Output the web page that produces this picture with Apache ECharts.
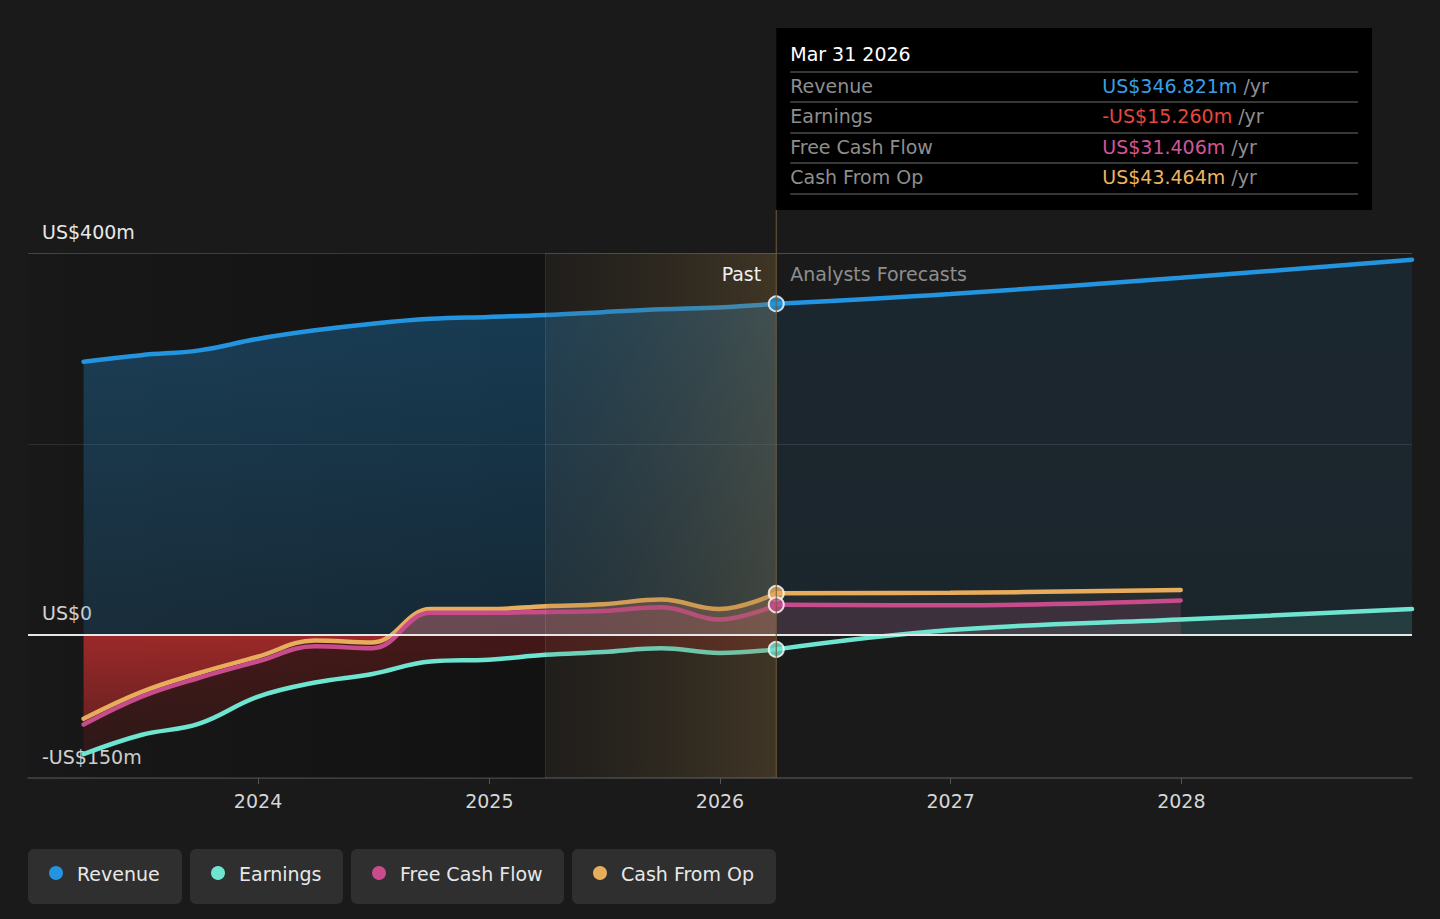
<!DOCTYPE html>
<html>
<head>
<meta charset="utf-8">
<title>Revenue, Earnings and Cash Flow</title>
<script src="https://cdn.jsdelivr.net/npm/echarts@6/dist/echarts.min.js"></script>
<style>
  html, body { margin: 0; padding: 0; background: #1a1a1a; }
  #chart { width: 1440px; height: 919px; }
</style>
</head>
<body>
<div id="chart"></div>
<script>
// past quarters (trailing twelve months)
var pastDates = ['2023-03-31', '2023-06-30', '2023-09-30', '2023-12-31', '2024-03-31', '2024-06-30',
                 '2024-09-30', '2024-12-31', '2025-03-31', '2025-06-30', '2025-09-30', '2025-12-31', '2026-03-31'];
var revenuePast  = [286, 293, 298, 310, 319, 326, 331, 333, 335, 338, 341, 343, 346.821];
var earningsPast = [-125, -105, -93, -65, -50, -41, -28, -26, -21, -18, -14, -19, -15.26];
var fcfPast      = [-94, -65, -45, -28, -12, -14, 23, 23, 24, 25, 29, 16, 31.406];
var cfoPast      = [-88, -60, -40, -23, -6, -8, 27, 27, 30, 32, 37, 27, 43.464];

// analyst forecasts
var forecastDates = ['2026-03-31', '2026-12-31', '2027-12-31', '2028-12-31'];
var revenueFc  = [346.821, 357, 374, 393];
var earningsFc = [-15.26, 5, 16, 27];
var cashDates  = ['2026-03-31', '2026-12-31', '2027-12-31'];
var fcfFc      = [31.406, 31, 36];
var cfoFc      = [43.464, 44, 47];

var yTicks = [-150, 0, 400];
var yearLabels = [2024, 2025, 2026, 2027, 2028];
var legendNames = ['Revenue', 'Earnings', 'Free Cash Flow', 'Cash From Op'];
var nowDate = '2026-03-31';
var highlightStart = '2025-03-31';

var colors = {
    revenue: '#2394df',
    earnings: '#6ee5d0',
    fcf: '#c84b8c',
    cfo: '#e8ad5c'
};

var FONT = '"DejaVu Sans", sans-serif';
var GRID = { left: 28, right: 28, top: 253, bottom: 141 };
var plotBottom = 919 - GRID.bottom;
var yMin = -150, yMax = 400;
var zeroAt = yMax / (yMax - yMin);

function pairs(dates, vals) {
    return dates.map(function (d, i) { return [d, vals[i]]; });
}
// vertical gradient in page coordinates, so the colour changes at zero
function vGrad(stops) {
    return new echarts.graphic.LinearGradient(0, GRID.top, 0, plotBottom, stops, true);
}
function signGrad(above1, above0, below0, below1) {
    return vGrad([
        { offset: 0, color: above1 },
        { offset: zeroAt, color: above0 },
        { offset: zeroAt, color: below0 },
        { offset: 1, color: below1 }
    ]);
}
function lineSeries(name, data, color, area, z) {
    return {
        name: name,
        type: 'line',
        data: data,
        smooth: 0.4,
        showSymbol: false,
        symbol: 'none',
        z: z || 2,
        lineStyle: { color: color, width: 4.5, cap: 'round' },
        itemStyle: { color: color },
        areaStyle: area ? { color: area, opacity: 1 } : undefined,
        silent: true
    };
}

var chart = echarts.init(document.getElementById('chart'), null, { renderer: 'svg' });

var splitColors = [];
for (var v = yMin; v <= yMax; v += 50) {
    splitColors.push(v === 400 ? '#4a4a4a' : (v === 200 ? '#333333' : 'rgba(0,0,0,0)'));
}

var T = 'rgba(0,0,0,0)';
var series = [
    lineSeries('Revenue', pairs(pastDates, revenuePast), colors.revenue,
        signGrad('rgba(35,148,223,0.34)', 'rgba(35,148,223,0.17)', T, T)),
    lineSeries('Revenue', pairs(forecastDates, revenueFc), colors.revenue,
        signGrad('rgba(35,148,223,0.11)', 'rgba(35,148,223,0.09)', T, T)),
    lineSeries('Earnings', pairs(pastDates, earningsPast), colors.earnings,
        signGrad('rgba(110,229,208,0.15)', 'rgba(110,229,208,0.15)', 'rgba(130,30,30,0.45)', 'rgba(90,25,25,0.3)')),
    lineSeries('Earnings', pairs(forecastDates, earningsFc), colors.earnings,
        signGrad('rgba(110,229,208,0.12)', 'rgba(110,229,208,0.12)', T, T)),
    lineSeries('Cash From Op', pairs(pastDates, cfoPast), colors.cfo,
        signGrad('rgba(225,140,120,0.28)', 'rgba(225,140,120,0.28)', 'rgba(180,45,45,0.78)', 'rgba(150,40,40,0.35)')),
    lineSeries('Cash From Op', pairs(cashDates, cfoFc), colors.cfo,
        signGrad('rgba(120,95,70,0.12)', 'rgba(120,95,70,0.12)', T, T)),
    lineSeries('Free Cash Flow', pairs(pastDates, fcfPast), colors.fcf,
        signGrad('rgba(200,90,110,0.22)', 'rgba(200,90,110,0.22)', T, T)),
    lineSeries('Free Cash Flow', pairs(cashDates, fcfFc), colors.fcf,
        signGrad('rgba(200,75,140,0.14)', 'rgba(200,75,140,0.14)', T, T))
];

// darker band over the older history
series[0].markArea = {
    silent: true,
    z: 1,
    itemStyle: {
        color: new echarts.graphic.LinearGradient(0, 0, 1, 0, [
            { offset: 0, color: 'rgba(0,0,0,0.08)' },
            { offset: 1, color: 'rgba(0,0,0,0.32)' }
        ])
    },
    data: [[{ xAxis: '2023-01-02' }, { xAxis: highlightStart }]]
};
// zero line
series[0].markLine = {
    silent: true,
    symbol: 'none',
    z: 5,
    label: { show: false },
    lineStyle: { color: '#e6e6e6', width: 2, type: 'solid' },
    data: [{ yAxis: 0 }]
};

var last = pastDates.length - 1;
series.push({
    name: 'pointer',
    type: 'scatter',
    z: 10,
    silent: true,
    symbolSize: 15,
    data: [
        { value: [nowDate, revenuePast[last]], itemStyle: { color: colors.revenue } },
        { value: [nowDate, earningsPast[last]], itemStyle: { color: colors.earnings } },
        { value: [nowDate, cfoPast[last]], itemStyle: { color: colors.cfo } },
        { value: [nowDate, fcfPast[last]], itemStyle: { color: colors.fcf } }
    ],
    itemStyle: { borderColor: '#ffffff', borderWidth: 2 },
    markArea: {
        silent: true,
        z: 3,
        itemStyle: {
            color: new echarts.graphic.LinearGradient(0, 0, 1, 0, [
                { offset: 0, color: 'rgba(90,70,40,0.1)' },
                { offset: 1, color: 'rgba(140,110,60,0.33)' }
            ])
        },
        data: [[{ xAxis: highlightStart }, { xAxis: nowDate }]]
    },
    markLine: {
        silent: true,
        symbol: 'none',
        label: { show: false },
        lineStyle: { color: 'rgba(255,255,255,0.1)', width: 1, type: 'solid' },
        data: [{ xAxis: highlightStart }]
    }
});

chart.setOption({
    backgroundColor: '#1a1a1a',
    animation: false,
    textStyle: { fontFamily: FONT },
    grid: GRID,
    xAxis: {
        type: 'time',
        min: '2023-01-02',
        max: '2028-12-31',
        minInterval: 365 * 24 * 3600 * 1000,
        axisLine: { onZero: false, lineStyle: { color: '#4a4a4a', width: 1.5 } },
        axisTick: { show: true, length: 6, lineStyle: { color: '#555' } },
        splitLine: { show: false },
        axisLabel: {
            color: '#d6d6d6',
            fontSize: 19,
            margin: 13,
            formatter: function (val) {
                var y = new Date(val).getFullYear();
                return yearLabels.indexOf(y) >= 0 ? String(y) : '';
            }
        }
    },
    yAxis: {
        type: 'value',
        min: yMin,
        max: yMax,
        interval: 50,
        axisLine: { show: false },
        axisTick: { show: false },
        splitLine: { show: true, lineStyle: { color: splitColors, width: 1 } },
        axisLabel: {
            inside: true,
            margin: 14,
            color: '#e8e8e8',
            fontSize: 19,
            verticalAlign: 'bottom',
            padding: [0, 0, 12, 0],
            formatter: function (val) {
                if (yTicks.indexOf(val) < 0) return '';
                if (val === 0) return 'US$0';
                return (val < 0 ? '-' : '') + 'US$' + Math.abs(val) + 'm';
            }
        }
    },
    series: series
});

// tooltip box, past / forecast labels and legend
function money(v) {
    return (v < 0 ? '-' : '') + 'US$' + Math.abs(v).toFixed(3) + 'm';
}
var px = chart.convertToPixel({ xAxisIndex: 0 }, nowDate);
var boxTop = 28, boxBottom = 210, boxRight = 1372;
var rowLabels = ['Revenue', 'Earnings', 'Free Cash Flow', 'Cash From Op'];
var rowValues = [revenuePast[last], earningsPast[last], fcfPast[last], cfoPast[last]];
var rowColors = ['#3a9fe2', '#e5473f', '#d0569a', '#ebb462'];
var rowY = [86, 116, 147, 177];
var sepY = [72, 102, 133, 163, 194];

var g = [];
g.push({ type: 'line', silent: true, z: 20,
    shape: { x1: px, y1: boxBottom, x2: px, y2: plotBottom },
    style: { stroke: '#6e5c3c', lineWidth: 1 } });
g.push({ type: 'rect', silent: true, z: 30,
    shape: { x: px, y: boxTop, width: boxRight - px, height: boxBottom - boxTop },
    style: { fill: '#000000' } });
g.push({ type: 'text', silent: true, z: 31,
    style: { text: 'Mar 31 2026', x: px + 14, y: 54, fill: '#ffffff', fontSize: 19, fontFamily: FONT, verticalAlign: 'middle' } });
sepY.forEach(function (y) {
    g.push({ type: 'line', silent: true, z: 31,
        shape: { x1: px + 14, y1: y, x2: boxRight - 14, y2: y },
        style: { stroke: '#4a4a4a', lineWidth: 1.5 } });
});
rowLabels.forEach(function (lab, i) {
    g.push({ type: 'text', silent: true, z: 31,
        style: { text: lab, x: px + 14, y: rowY[i], fill: '#8e8e8e', fontSize: 19, fontFamily: FONT, verticalAlign: 'middle' } });
    g.push({ type: 'text', silent: true, z: 31,
        style: {
            text: '{v|' + money(rowValues[i]) + '} {u|/yr}',
            x: px + 326, y: rowY[i], verticalAlign: 'middle', fontSize: 19, fontFamily: FONT,
            rich: {
                v: { fill: rowColors[i], fontSize: 19, fontFamily: FONT },
                u: { fill: '#8e8e8e', fontSize: 19, fontFamily: FONT }
            }
        } });
});
g.push({ type: 'text', silent: true, z: 31,
    style: { text: 'Past', x: px - 15, y: 274, align: 'right', verticalAlign: 'middle', fill: '#f0f0f0', fontSize: 19, fontFamily: FONT } });
g.push({ type: 'text', silent: true, z: 31,
    style: { text: 'Analysts Forecasts', x: px + 14, y: 274, verticalAlign: 'middle', fill: '#8e8e8e', fontSize: 19, fontFamily: FONT } });

var legendBoxes = [[28, 154], [190, 153], [351, 213], [572, 204]];
var legendColors = [colors.revenue, colors.earnings, colors.fcf, colors.cfo];
legendNames.forEach(function (name, i) {
    var bx = legendBoxes[i][0], bw = legendBoxes[i][1];
    g.push({ type: 'rect', silent: true, z: 30,
        shape: { x: bx, y: 849, width: bw, height: 55, r: 6 },
        style: { fill: '#2f2f2f' } });
    g.push({ type: 'circle', silent: true, z: 31,
        shape: { cx: bx + 28, cy: 873, r: 7 },
        style: { fill: legendColors[i] } });
    g.push({ type: 'text', silent: true, z: 31,
        style: { text: name, x: bx + 49, y: 874, verticalAlign: 'middle', fill: '#e8e8e8', fontSize: 19, fontFamily: FONT } });
});

chart.setOption({ graphic: g });
</script>
</body>
</html>
